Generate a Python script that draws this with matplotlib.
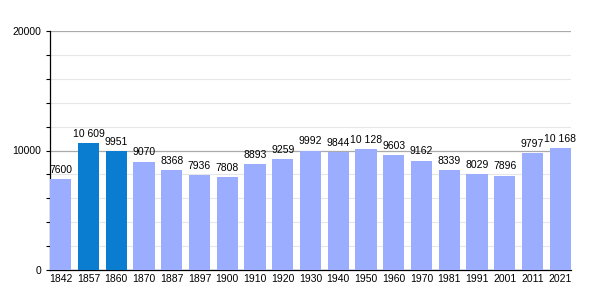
import matplotlib
matplotlib.use('Agg')
import matplotlib.pyplot as plt
from matplotlib.ticker import MultipleLocator
import numpy as np

plt.rcParams['font.family'] = ['Liberation Sans', 'DejaVu Sans']

years = ['1842', '1857', '1860', '1870', '1887', '1897', '1900', '1910', '1920', '1930',
         '1940', '1950', '1960', '1970', '1981', '1991', '2001', '2011', '2021']
population = [7600, 10609, 9951, 9070, 8368, 7936, 7808, 8893, 9259, 9992,
              9844, 10128, 9603, 9162, 8339, 8029, 7896, 9797, 10168]
highlight = ['1857', '1860']

light = '#9aadff'
dark = '#0a7dd0'

fig = plt.figure(figsize=(6, 3), dpi=100)
ax = fig.add_axes([50/600, 0.1, 521/600, 239/300])

x = np.arange(len(years))
bar_width = 0.77
colors = [dark if y in highlight else light for y in years]
ax.bar(x, population, width=bar_width, color=colors, zorder=3)

# value labels, space as thousands separator
for xi, v in zip(x, population):
    txt = f'{v:,}'.replace(',', ' ') if v >= 10000 else str(v)
    ax.annotate(txt, (xi, v), xytext=(0, 3), textcoords='offset points',
                ha='center', va='bottom', fontsize=7.5, zorder=4)

ax.set_xlim(-bar_width/2, len(years) - 1 + bar_width/2)
ax.set_ylim(0, 20000)
ax.set_xticks(x)
ax.set_xticklabels(years, fontsize=7.5)
ax.yaxis.set_major_locator(MultipleLocator(10000))
ax.yaxis.set_minor_locator(MultipleLocator(2000))
ax.tick_params(axis='y', labelsize=7.5, length=3, width=0.8, color='black')
ax.tick_params(axis='y', which='minor', length=3, width=0.8)
ax.tick_params(axis='x', length=0, pad=3)

ax.grid(axis='y', which='major', color='#aaaaaa', linewidth=0.9, zorder=0)
ax.grid(axis='y', which='minor', color='#e6e6e6', linewidth=0.8, zorder=0)

for s in ['top', 'right']:
    ax.spines[s].set_visible(False)
ax.spines['left'].set_linewidth(0.9)
ax.spines['bottom'].set_linewidth(0.9)

plt.savefig('out.png', dpi=100)
plt.close()
